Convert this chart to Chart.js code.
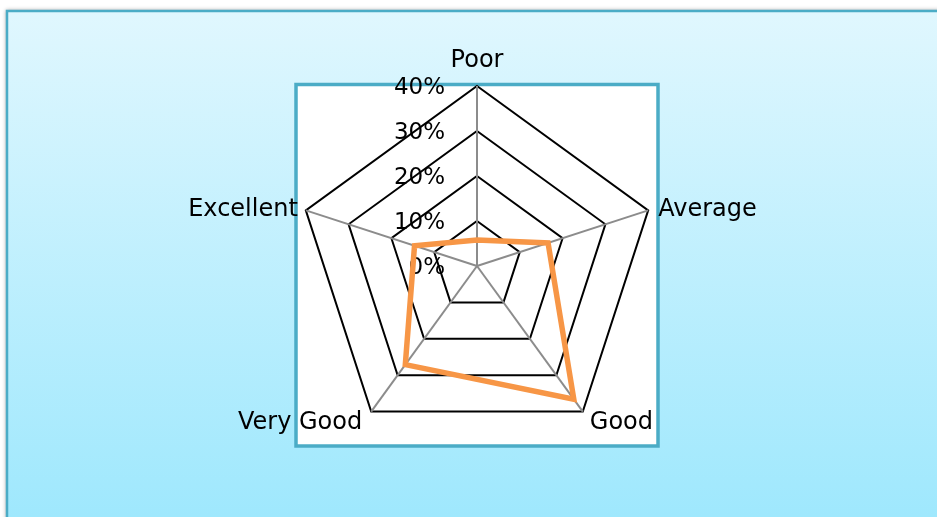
<!DOCTYPE html>
<html>
<head>
<meta charset="utf-8">
<script src="https://cdn.jsdelivr.net/npm/chart.js@4/dist/chart.umd.min.js"></script>
<style>
  body { margin: 0; background: #ffffff; }
  canvas { display: block; }
</style>
</head>
<body>
<canvas id="radarChart" width="937" height="517"></canvas>
<script>
// chart data
const categories = ["Poor", "Average", "Good", "Very Good", "Excellent"];
const ratingShare = [5.8, 16.6, 36.6, 27.1, 14.6];
const tickValues = [0, 10, 20, 30, 40];
const tickLabels = ["0%", "10%", "20%", "30%", "40%"];

const teal = "#4bacc6";
const labelFont = "24px 'DejaVu Sans'";
const tickFont = "23px 'DejaVu Sans'";

// frame, gradient and white plot box behind the chart
const backgroundPlugin = {
    id: "background",
    beforeDraw(chart) {
        const ctx = chart.ctx;
        const w = chart.width, h = chart.height;
        ctx.save();
        ctx.fillStyle = "#ffffff";
        ctx.fillRect(0, 0, w, h);

        ctx.shadowColor = "rgba(0,0,0,0.35)";
        ctx.shadowBlur = 4;
        ctx.shadowOffsetX = -1;
        ctx.shadowOffsetY = -1;
        const grad = ctx.createLinearGradient(0, 11, 0, h);
        grad.addColorStop(0, "#e0f7fe");
        grad.addColorStop(1, "#9fe8fd");
        ctx.fillStyle = grad;
        ctx.fillRect(7, 11, w, h);
        ctx.shadowColor = "transparent";
        ctx.strokeStyle = teal;
        ctx.lineWidth = 2.5;
        ctx.strokeRect(7, 11, w + 10, h + 10);

        ctx.fillStyle = "#ffffff";
        ctx.fillRect(296, 84.5, 362, 361.5);
        ctx.lineWidth = 3.5;
        ctx.strokeRect(296, 84.5, 362, 361.5);
        ctx.restore();
    }
};

// tick labels left of the vertical spoke, below the data line
const tickLabelPlugin = {
    id: "tickLabels",
    beforeDatasetsDraw(chart) {
        const scale = chart.scales.r;
        const ctx = chart.ctx;
        ctx.save();
        ctx.font = tickFont;
        ctx.fillStyle = "#000000";
        ctx.textAlign = "right";
        ctx.textBaseline = "middle";
        tickValues.forEach((v, i) => {
            const p = scale.getPointPositionForValue(0, v);
            ctx.fillText(tickLabels[i], scale.xCenter - 32, p.y + 2);
        });
        ctx.restore();
    }
};

// category labels around the outer ring
const pointLabelPlugin = {
    id: "pointLabels",
    afterDraw(chart) {
        const scale = chart.scales.r;
        const ctx = chart.ctx;
        const offsets = [
            { dx: 0, dy: -19, align: "center" },
            { dx: 10, dy: 6, align: "left" },
            { dx: 7, dy: 17, align: "left" },
            { dx: -9, dy: 17, align: "right" },
            { dx: -8, dy: 6, align: "right" }
        ];
        ctx.save();
        ctx.font = labelFont;
        ctx.fillStyle = "#000000";
        ctx.textBaseline = "alphabetic";
        categories.forEach((c, i) => {
            const p = scale.getPointPositionForValue(i, scale.max);
            ctx.textAlign = offsets[i].align;
            ctx.fillText(c, p.x + offsets[i].dx, p.y + offsets[i].dy);
        });
        ctx.restore();
    }
};

const ctx = document.getElementById("radarChart").getContext("2d");
new Chart(ctx, {
    type: "radar",
    data: {
        labels: categories,
        datasets: [{
            label: "Rating",
            data: ratingShare,
            borderColor: "#f79646",
            borderWidth: 5.5,
            backgroundColor: "rgba(0,0,0,0)",
            fill: false,
            pointRadius: 0,
            pointHoverRadius: 0,
            borderJoinStyle: "miter"
        }]
    },
    options: {
        responsive: false,
        animation: false,
        devicePixelRatio: 1,
        layout: {
            padding: { left: 277, right: 260, top: 86, bottom: 71 }
        },
        plugins: {
            legend: { display: false },
            tooltip: { enabled: false }
        },
        scales: {
            r: {
                min: 0,
                max: 40,
                ticks: { stepSize: 10, display: false },
                pointLabels: { display: false },
                grid: { color: "#000000", lineWidth: 2 },
                angleLines: { color: "#8c8c8c", lineWidth: 2 }
            }
        }
    },
    plugins: [backgroundPlugin, tickLabelPlugin, pointLabelPlugin]
});
</script>
</body>
</html>
